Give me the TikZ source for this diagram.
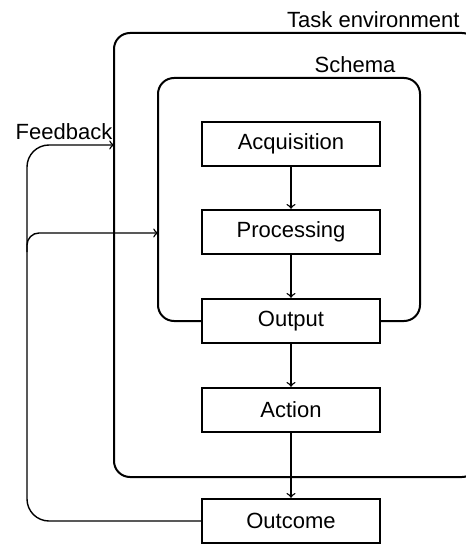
\documentclass[tikz,border=0pt]{standalone}
\usepackage{fontspec}
\setmainfont{Liberation Sans}
\usetikzlibrary{arrows, positioning}
\tikzset{
    boxnode/.style = {draw, rectangle, line width=1.2pt, minimum width=89pt, 
      minimum height=22pt, inner sep = 0em, node distance=0em, font=\fontsize{11}{13}\selectfont},
    textnode/.style  = {draw=none, fill=none, rectangle, inner sep = 0em, 
      font=\fontsize{11}{13}\selectfont},
    frame/.style = {draw, line width=1pt, rounded corners=8pt},
    connect/.style = {black, line width=0.7pt, ->}
}
\begin{document}
\begin{tikzpicture}[x=0.5pt, y=-0.5pt]
    \useasboundingbox (0,0) rectangle (465,545);

    \node [name=acq, boxnode] at (291,144) {Acquisition};
    \node [name=proc, boxnode, below of = acq, yshift=-44pt] {Processing};
    \node [name=out, boxnode, below of = proc, yshift=-44.5pt] {Output};
    \node [name=act, boxnode, below of = out, yshift=-44.5pt] {Action};
    \node [name=outc, boxnode, below of = act, yshift=-55.5pt] {Outcome};

    % frames
    \draw [frame] (114,33) rectangle (478,477);
    \draw [frame] (out.west) -| (158,78) -| (420,321) -- (out.east);

    \node [name=tasklabel, textnode, anchor=east] at (460,20) {Task environment};
    \node [name=schemalabel, textnode] at (355,65) {Schema};
    \node [name=fblabel, textnode] at (64,132) {Feedback};

    \draw [connect] (acq) -- (proc);
    \draw [connect] (proc) -- (out);
    \draw [connect] (out) -- (act);
    \draw [connect] (act) -- (outc);

    % feedback
    \coordinate (taskin) at (114,145);
    \coordinate (schemain) at (158,233);
    \coordinate (fbsplit) at (27,252);
    \draw [connect, rounded corners=11pt] (outc.west) -| (27,145) -- (taskin);
    \draw [connect, rounded corners=6pt] (fbsplit) |- (schemain);
\end{tikzpicture}
\end{document}
